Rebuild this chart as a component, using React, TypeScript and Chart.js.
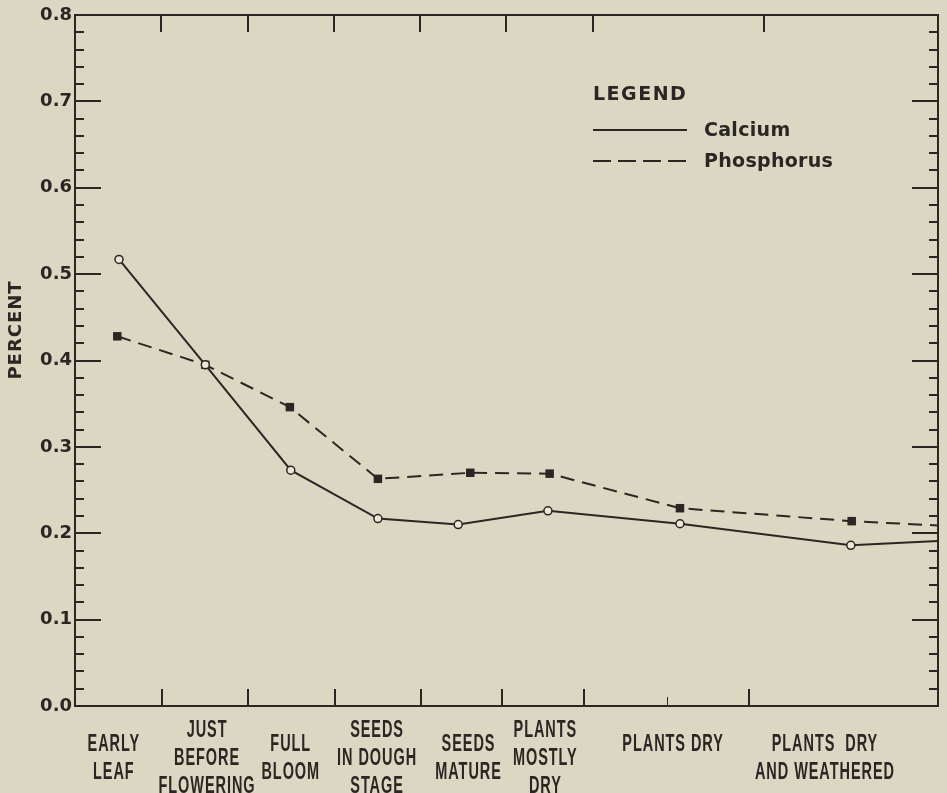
import React, { useEffect, useRef } from "react";
import { Chart, registerables } from "chart.js";

Chart.register(...registerables);

// x positions are in percent of the horizontal axis span (0 = left frame, 100 = right frame)
const calciumX = [5.1, 15.1, 25.0, 35.1, 44.4, 54.8, 70.1, 89.9, 100];
const calciumY = [0.517, 0.395, 0.273, 0.217, 0.21, 0.226, 0.211, 0.186, 0.191];
const phosphorusX = [4.9, 15.1, 24.9, 35.1, 45.8, 55.0, 70.1, 90.0, 100];
const phosphorusY = [0.428, 0.395, 0.346, 0.263, 0.27, 0.269, 0.229, 0.214, 0.209];

const stageLabels: string[][] = [
  ["EARLY", "LEAF"],
  ["JUST", "BEFORE", "FLOWERING"],
  ["FULL", "BLOOM"],
  ["SEEDS", "IN DOUGH", "STAGE"],
  ["SEEDS", "MATURE"],
  ["PLANTS", "MOSTLY", "DRY"],
  ["PLANTS DRY", ""],
  ["PLANTS  DRY", "AND WEATHERED"],
];
const stageLabelX = [4.5, 15.3, 25.0, 35.0, 45.6, 54.5, 69.3, 86.9];
const bottomTickX = [10.1, 20.0, 30.1, 40.1, 49.5, 59.0, 78.1];
const faintTickX = [68.6];
const topTickX = [10.0, 20.0, 30.0, 40.0, 49.9, 60.0, 79.8];
const yMajorTicks = [0.1, 0.2, 0.3, 0.4, 0.5, 0.6, 0.7];
const yMinorTicks = [
  0.02, 0.04, 0.06, 0.08, 0.12, 0.14, 0.16, 0.18, 0.22, 0.24, 0.26, 0.28,
  0.32, 0.34, 0.36, 0.38, 0.42, 0.44, 0.46, 0.48, 0.52, 0.54, 0.56, 0.58,
  0.62, 0.64, 0.66, 0.68, 0.72, 0.74, 0.76, 0.78,
];

const INK = "#2a2623";
const PAPER = "#dcd7c3";

export default function App() {
  const canvasRef = useRef<HTMLCanvasElement | null>(null);

  useEffect(() => {
    document.body.style.margin = "0";
    const canvas = canvasRef.current;
    if (!canvas) return;

    const decor = {
      id: "decor",
      beforeDraw(chart: any) {
        const ctx = chart.ctx;
        ctx.save();
        ctx.fillStyle = PAPER;
        ctx.fillRect(0, 0, chart.width, chart.height);
        ctx.restore();
      },
      afterDatasetsDraw(chart: any) {
        const ctx = chart.ctx;
        const xs = chart.scales.x;
        const ys = chart.scales.y;
        const { left, right, top, bottom } = chart.chartArea;
        ctx.save();
        ctx.strokeStyle = INK;
        ctx.fillStyle = INK;
        ctx.lineWidth = 2;
        ctx.strokeRect(left, top, right - left, bottom - top);

        // y ticks both sides, inward
        ctx.lineWidth = 2;
        const tick = (v: number, len: number) => {
          const y = Math.round(ys.getPixelForValue(v));
          ctx.beginPath();
          ctx.moveTo(left, y);
          ctx.lineTo(left + len, y);
          ctx.moveTo(right, y);
          ctx.lineTo(right - len, y);
          ctx.stroke();
        };
        yMajorTicks.forEach((v) => tick(v, 26));
        yMinorTicks.forEach((v) => tick(v, 9));

        // x ticks
        ctx.lineWidth = 2;
        bottomTickX.forEach((v) => {
          const x = Math.round(xs.getPixelForValue(v));
          ctx.beginPath();
          ctx.moveTo(x, bottom);
          ctx.lineTo(x, bottom - 17);
          ctx.stroke();
        });
        ctx.lineWidth = 1;
        faintTickX.forEach((v) => {
          const x = Math.round(xs.getPixelForValue(v)) + 0.5;
          ctx.beginPath();
          ctx.moveTo(x, bottom);
          ctx.lineTo(x, bottom - 9);
          ctx.stroke();
        });
        ctx.lineWidth = 2;
        topTickX.forEach((v) => {
          const x = Math.round(xs.getPixelForValue(v));
          ctx.beginPath();
          ctx.moveTo(x, top);
          ctx.lineTo(x, top + 17);
          ctx.stroke();
        });

        // category labels (condensed lettering)
        ctx.font = 'bold 23px "Liberation Sans"';
        ctx.textAlign = "center";
        ctx.textBaseline = "alphabetic";
        (ctx as any).letterSpacing = "1.5px";
        stageLabels.forEach((lines, i) => {
          const cx = xs.getPixelForValue(stageLabelX[i]);
          const n = lines.length;
          lines.forEach((line, j) => {
            const cy = 757 + (j - (n - 1) / 2) * 28;
            ctx.save();
            ctx.translate(cx, cy + 8.2);
            ctx.scale(0.63, 1);
            ctx.fillText(line, 0, 0);
            ctx.restore();
          });
        });

        // y title
        ctx.save();
        ctx.font = 'bold 18px "DejaVu Sans"';
        (ctx as any).letterSpacing = "1px";
        ctx.textAlign = "center";
        ctx.textBaseline = "middle";
        ctx.translate(16, 330);
        ctx.rotate(-Math.PI / 2);
        ctx.fillText("PERCENT", 0, 0);
        ctx.restore();

        // legend
        ctx.textAlign = "left";
        ctx.textBaseline = "middle";
        ctx.font = 'bold 19px "DejaVu Sans"';
        (ctx as any).letterSpacing = "1.5px";
        ctx.fillText("LEGEND", 593, 95);
        (ctx as any).letterSpacing = "0.3px";
        ctx.fillText("Calcium", 704, 131);
        ctx.fillText("Phosphorus", 704, 162);
        ctx.lineWidth = 2;
        ctx.beginPath();
        ctx.moveTo(593, 130);
        ctx.lineTo(687, 130);
        ctx.stroke();
        ctx.setLineDash([18, 7]);
        ctx.beginPath();
        ctx.moveTo(593, 161);
        ctx.lineTo(687, 161);
        ctx.stroke();
        ctx.setLineDash([]);
        ctx.restore();
      },
    };

    const lastHidden = (n: number, r: number) => (c: any) =>
      c.dataIndex === n - 1 ? 0 : r;

    const chart = new Chart(canvas, {
      type: "line",
      data: {
        datasets: [
          {
            label: "Calcium",
            data: calciumX.map((x, i) => ({ x, y: calciumY[i] })),
            borderColor: INK,
            borderWidth: 2,
            pointStyle: "circle",
            pointRadius: lastHidden(calciumX.length, 4),
            pointBackgroundColor: "#ebe7d8",
            pointBorderColor: INK,
            pointBorderWidth: 1.5,
            tension: 0,
          },
          {
            label: "Phosphorus",
            data: phosphorusX.map((x, i) => ({ x, y: phosphorusY[i] })),
            borderColor: INK,
            borderWidth: 2,
            borderDash: [14, 8],
            pointStyle: "rect",
            pointRadius: lastHidden(phosphorusX.length, 6),
            pointBackgroundColor: INK,
            pointBorderColor: INK,
            pointBorderWidth: 0,
            tension: 0,
          },
        ],
      },
      options: {
        responsive: false,
        animation: false,
        events: [],
        layout: { padding: { left: 0, right: 9, top: 15, bottom: 87 } },
        plugins: {
          legend: { display: false },
          tooltip: { enabled: false },
        },
        scales: {
          x: {
            type: "linear",
            min: 0,
            max: 100,
            display: false,
          },
          y: {
            type: "linear",
            min: 0,
            max: 0.8,
            afterFit: (scale: any) => {
              scale.width = 75;
            },
            grid: { display: false, drawTicks: false },
            border: { display: false },
            ticks: {
              stepSize: 0.1,
              padding: 3,
              color: INK,
              font: { family: "DejaVu Sans", size: 18, weight: "bold" },
              callback: (v: any) => Number(v).toFixed(1),
            },
          },
        },
      },
      plugins: [decor],
    });

    return () => chart.destroy();
  }, []);

  return (
    <div style={{ width: 947, height: 793 }}>
      <canvas ref={canvasRef} width={947} height={793} style={{ display: "block" }} />
    </div>
  );
}
